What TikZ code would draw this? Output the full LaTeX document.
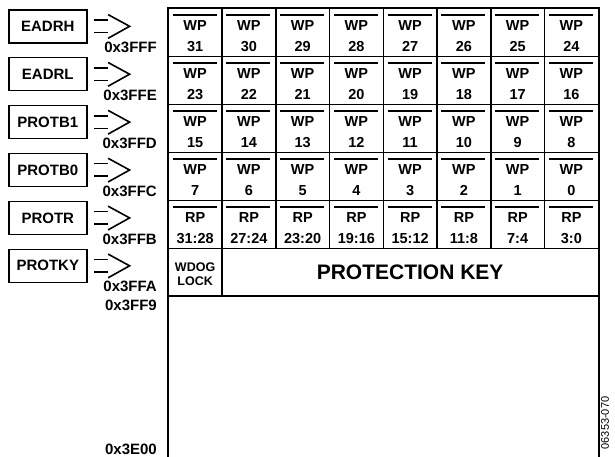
\documentclass[tikz,border=0pt]{standalone}
\usepackage{fontspec}
\setmainfont{Liberation Sans}
\usetikzlibrary{calc}
\begin{document}
\begin{tikzpicture}[x=1pt,y=-1pt,
  cellbox/.style={draw, line width=1.5pt, minimum width=53.75pt, minimum height=47.9pt, inner sep=0pt, anchor=north west},
  celltext/.style={font=\fontsize{14.5}{21}\selectfont\bfseries, inner sep=0pt, anchor=base},
  regbox/.style={draw, line width=1.6pt, minimum width=78pt, minimum height=33pt, inner sep=0pt, anchor=north west, font=\fontsize{15}{18}\selectfont\bfseries},
  addr/.style={font=\fontsize{15}{18}\selectfont\bfseries, anchor=east, inner sep=0pt},
  bar/.style={line width=2pt},
  hollow/.style={line width=1.6pt}
]
\useasboundingbox (0,0) rectangle (615,457);
% register boxes, arrows and addresses
\foreach \name/\ad [count=\i from 0] in {EADRH/0x3FFF, EADRL/0x3FFE, PROTB1/0x3FFD, PROTB0/0x3FFC, PROTR/0x3FFB, PROTKY/0x3FFA}{
  \node[regbox] (r\i) at (8,{9+\i*47.9}) {\name};
  \draw[hollow] ($(r\i.east)+(6,-6.3)$) -- ($(r\i.east)+(20.5,-6.3)$);
  \draw[hollow] ($(r\i.east)+(6,6.3)$) -- ($(r\i.east)+(20.5,6.3)$);
  \draw[hollow] ($(r\i.east)+(20.5,-11.7)$) -- ($(r\i.east)+(42,0)$) -- ($(r\i.east)+(20.5,12)$);
  \node[addr] (a\i) at (157,{47.3+\i*47.9}) {\ad};
}
% WP rows
\foreach \i in {0,...,3}{
  \foreach \j in {0,...,7}{
    \pgfmathtruncatemacro{\n}{(3-\i)*8+(7-\j)}
    \node[cellbox] (c\i\j) at ({167.5+\j*53.75},{8+\i*47.9}) {};
    \node[celltext] (h\i\j) at ($(c\i\j.north)+(0,23)$) {WP};
    \node[celltext] (t\i\j) at ($(c\i\j.north)+(0,44)$) {\n};
    \draw[bar] ($(c\i\j.north west)+(5.2,7)$) -- ($(c\i\j.north east)+(-6.2,7)$);
  }
}
% RP row
\foreach \lab [count=\k from 0] in {31:28,27:24,23:20,19:16,15:12,11:8,7:4,3:0}{
  \node[cellbox] (c4\k) at ({167.5+\k*53.75},{8+4*47.9}) {};
  \node[celltext] (h4\k) at ($(c4\k.north)+(0,23)$) {RP};
  \node[celltext] (t4\k) at ($(c4\k.north)+(0,44)$) {\lab};
  \draw[bar] ($(c4\k.north west)+(5.2,7)$) -- ($(c4\k.north east)+(-6.2,7)$);
}
% last row
\node[cellbox] (wd) at (167.5,{8+5*47.9}) {};
\node[font=\fontsize{12.5}{14.7}\selectfont\bfseries, align=center, inner sep=0pt] (wdt) at ($(wd.center)+(0,2)$) {WDOG\\LOCK};
\node[draw, line width=1.5pt, minimum width=376.25pt, minimum height=47.9pt, inner sep=0pt, anchor=north west, font=\fontsize{21}{24}\selectfont\bfseries] (pk) at (221.25,{8+5*47.9}) {PROTECTION KEY};
% memory region
\node[draw, line width=1.5pt, minimum width=430pt, minimum height=175pt, inner sep=0pt, anchor=north west] (mem) at (167.5,{8+6*47.9}) {};
\draw[line width=2pt] (c00.north west) rectangle (mem.south east);
\node[addr] (a6) at (157,305.5) {0x3FF9};
\node[addr] (a7) at (157,449) {0x3E00};
\node[rotate=90, font=\fontsize{11}{13}\selectfont, inner sep=0pt] (fig) at (605,423) {06353-070};
\end{tikzpicture}
\end{document}
